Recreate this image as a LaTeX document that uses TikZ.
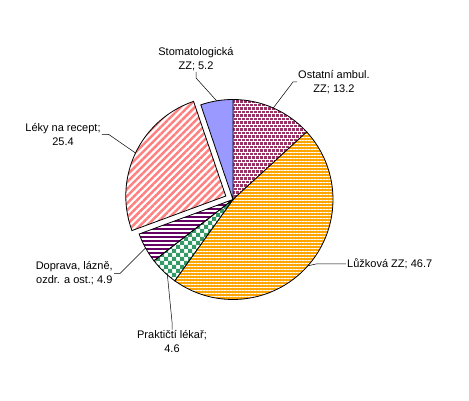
\documentclass[tikz,border=0pt]{standalone}
\usepackage{fontspec}
\setmainfont{Liberation Sans}
\usetikzlibrary{calc,patterns,patterns.meta}

\definecolor{lavender}{HTML}{9999FF}
\definecolor{plum}{HTML}{993366}
\definecolor{amber}{HTML}{FFA500}
\definecolor{seagreen}{HTML}{339966}
\definecolor{grape}{HTML}{660066}
\definecolor{salmon}{HTML}{FF8080}

\pgfdeclarepatternformonly{bigcheck}{\pgfqpoint{-.1pt}{-.1pt}}{\pgfqpoint{8.1pt}{8.1pt}}{\pgfqpoint{8pt}{8pt}}{%
  \pgfpathrectangle{\pgfpointorigin}{\pgfqpoint{4.1pt}{4.1pt}}%
  \pgfpathrectangle{\pgfqpoint{4pt}{4pt}}{\pgfqpoint{4.1pt}{4.1pt}}%
  \pgfusepath{fill}}

\newcommand{\pieslice}[4]{\draw[#4] (#1) -- ++(#2:100pt) arc (#2:#3:100pt) -- cycle;}

\begin{document}
\begin{tikzpicture}[x=1pt,y=1pt,
    slice/.style={draw=black,line width=0.8pt,preaction={fill=white}},
    outline/.style={draw=black,line width=0.8pt},
    lbl/.style={font=\fontsize{11}{14}\selectfont,align=center,inner sep=1pt},
    leader/.style={draw=black,line width=0.5pt}]
  \useasboundingbox (0,0) rectangle (469,401);
  \coordinate (c) at (233,201.5);
  \coordinate (cl) at ($(c)+(154.5:8pt)$);
  % slices, clockwise from the top
  % Ostatni: staggered square dots, clipped to the slice
  \begin{scope}
    \clip (c) -- ++(42.5:100pt) arc (42.5:90:100pt) -- cycle;
    \foreach \j in {0,...,29}
      \foreach \i in {0,...,25}
        \fill[plum] ({232+4*\i+2*mod(\j,2)},{200+3.5*\j}) rectangle ++(2.6,2.6);
  \end{scope}
  \pieslice{c}{42.5}{90}{outline}
  \pieslice{c}{-125.6}{42.5}{slice,preaction={fill=amber},pattern={Lines[angle=0,distance=3pt,line width=0.7pt]},pattern color=white}
  \pieslice{c}{-142.2}{-125.6}{slice,pattern=bigcheck,pattern color=seagreen}
  % Doprava: purple stripes, clipped to the slice
  \begin{scope}
    \clip (c) -- ++(-159.8:100pt) arc (-159.8:-142.2:100pt) -- cycle;
    \foreach \y in {100,104,...,208}
      \draw[grape,line width=1.3pt] (120,\y) -- (240,\y);
  \end{scope}
  \pieslice{c}{-159.8}{-142.2}{outline}
  \pieslice{cl}{108.8}{200.2}{slice,pattern={Lines[angle=45,distance=5pt,line width=2.5pt]},pattern color=salmon}
  \pieslice{c}{90}{108.8}{slice,fill=lavender}

  % labels
  \node[lbl] (stoma) at (196,342) {Stomatologická\\ZZ; 5.2};
  \node[lbl,anchor=west] (ostatni) at (297,319) {Ostatní ambul.\\ZZ; 13.2};
  \node[lbl,anchor=west] (luzkova) at (346,137) {Lůžková ZZ; 46.7};
  \node[lbl] (prakticti) at (172,59) {Praktičtí lékař;\\4.6};
  \node[lbl,anchor=east] (doprava) at (114,127.5) {Doprava, lázně,\\ozdr. a ost.; 4.9};
  \node[lbl] (leky) at (63,266.5) {Léky na recept;\\25.4};

  % leader lines
  \coordinate (pstoma) at ($(c)+(99.4:100pt)$);
  \coordinate (postatni) at ($(c)+(66.25:100pt)$);
  \coordinate (pluzkova) at ($(c)+(-41.55:100pt)$);
  \coordinate (pprakticti) at ($(c)+(-131:100pt)$);
  \coordinate (pdoprava) at ($(c)+(-151:100pt)$);
  \coordinate (pleky) at ($(cl)+(154.5:100pt)$);
  \draw[leader] (stoma.south) -- ++(0,-6) -- (pstoma);
  \draw[leader] (ostatni.west) -- ++(-4,0) -- (postatni);
  \draw[leader] (luzkova.west) -- ++(-30,0) -- (pluzkova);
  \draw[leader] (prakticti.north) -- ++(0,8) -- (pprakticti);
  \draw[leader] (doprava.east) -- ++(6,0) -- (pdoprava);
  \draw[leader] (leky.east) -- ++(7,0) -- (pleky);
\end{tikzpicture}
\end{document}
